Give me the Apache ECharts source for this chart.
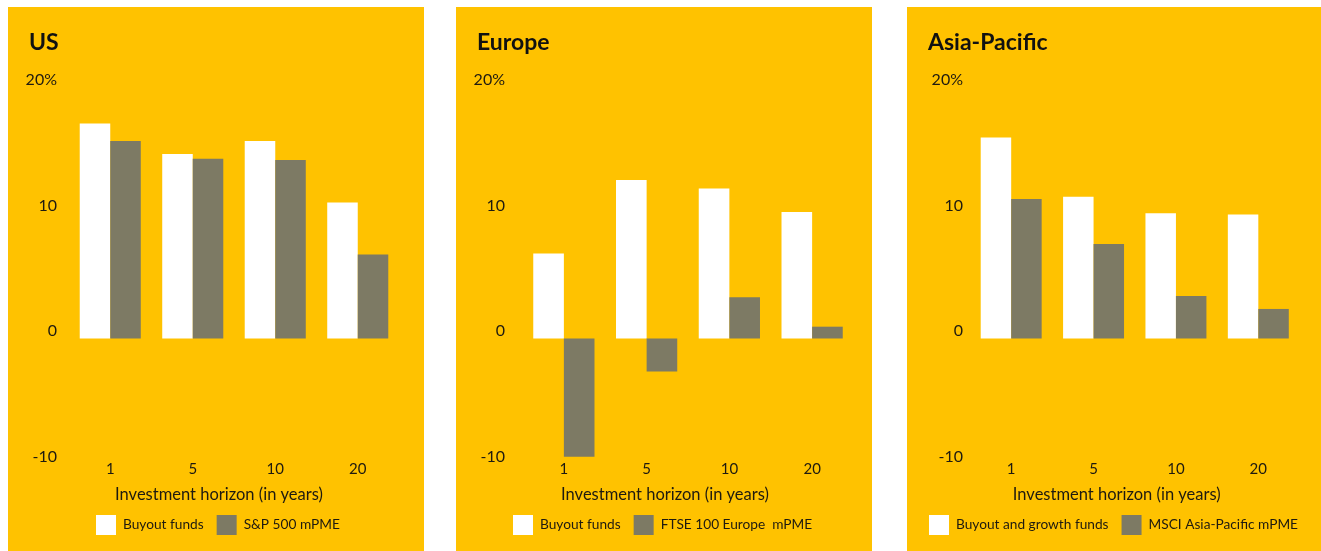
<!DOCTYPE html>
<html>
<head>
<meta charset="utf-8">
<script src="https://cdn.jsdelivr.net/npm/echarts@6/dist/echarts.min.js"></script>
<style>html,body{margin:0;padding:0;background:#fff;}#c{width:1321px;height:551px;}</style>
</head>
<body>
<div id="c"></div>
<script>
const categories = ['1', '5', '10', '20'];
const yTicks = [-10, 0, 10, 20];
const panelTitles = ['US', 'Europe', 'Asia-Pacific'];
const axisTitle = 'Investment horizon (in years)';
const usNames = ['Buyout funds', 'S&P 500 mPME'];
const euNames = ['Buyout funds', 'FTSE 100 Europe  mPME'];
const apNames = ['Buyout and growth funds', 'MSCI Asia-Pacific mPME'];
const usBuyout = [18.2, 15.6, 16.7, 11.5];
const usIndex = [16.7, 15.2, 15.1, 7.1];
const euBuyout = [7.2, 13.4, 12.7, 10.7];
const euIndex = [-10.0, -2.8, 3.5, 1.0];
const apBuyout = [17.0, 12.0, 10.6, 10.5];
const apIndex = [11.8, 8.0, 3.6, 2.5];

const YELLOW = '#FFC200';
const GREY = '#7D7A64';
const WHITE = '#FFFFFF';
const TXT = '#1E1A10';
const FONT = 'Lato, "Open Sans", sans-serif';

const panels = [
  {x: 8, w: 416, labelLeft: 65, barLeft: 69, barW: 330, nameShift: 30, legendLeft: 96, names: usNames, a: usBuyout, b: usIndex},
  {x: 456, w: 416, labelLeft: 513, barLeft: 522.5, barW: 331, nameShift: 46, legendLeft: 513, names: euNames, a: euBuyout, b: euIndex},
  {x: 907, w: 414, labelLeft: 971, barLeft: 970, barW: 329.5, nameShift: 36, legendLeft: 929, names: apNames, a: apBuyout, b: apIndex}
];

const grids = [], xAxes = [], yAxes = [], series = [], legends = [], titles = [], rects = [];
panels.forEach((p, i) => {
  rects.push({type: 'rect', silent: true, z: -10, shape: {x: p.x, y: 7, width: p.w, height: 544}, style: {fill: YELLOW}});
  titles.push({text: panelTitles[i], left: p.x + 21, top: 31, padding: 0,
    textStyle: {fontFamily: FONT, fontWeight: 'bold', fontSize: 23, color: '#111'}});
  // label grid (tick labels only)
  const gl = grids.length;
  grids.push({left: p.labelLeft, top: 80, width: 10, height: 377});
  xAxes.push({gridIndex: gl, type: 'category', show: false, data: categories});
  yAxes.push({gridIndex: gl, type: 'value', min: yTicks[0], max: yTicks[yTicks.length - 1], interval: 10,
    axisLine: {show: false}, axisTick: {show: false}, splitLine: {show: false},
    axisLabel: {color: TXT, fontFamily: FONT, fontSize: 16, margin: 8,
      formatter: v => v === yTicks[yTicks.length - 1] ? v + '%' : String(v)}});
  // bar grid
  const gb = grids.length;
  grids.push({left: p.barLeft, top: 102.1, width: p.barW, height: 354.6});
  xAxes.push({gridIndex: gb, type: 'category', data: categories, position: 'bottom',
    axisLine: {show: false}, axisTick: {show: false},
    axisLabel: {color: TXT, fontFamily: FONT, fontSize: 15, margin: 5},
    name: axisTitle, nameLocation: 'middle', nameGap: 29,
    nameTextStyle: {color: TXT, fontFamily: FONT, fontSize: 16.5, padding: [0, p.nameShift, 0, 0]}});
  yAxes.push({gridIndex: gb, type: 'value', min: -10, max: 20, show: false, splitLine: {show: false}});
  series.push({type: 'bar', name: p.names[0], xAxisIndex: gb, yAxisIndex: gb, data: p.a,
    barGap: '0%', barCategoryGap: '26%', itemStyle: {color: WHITE}});
  series.push({type: 'bar', name: p.names[1], xAxisIndex: gb, yAxisIndex: gb, data: p.b,
    barGap: '0%', barCategoryGap: '26%', itemStyle: {color: GREY}});
  legends.push({data: p.names, left: p.legendLeft, top: 515, padding: 0, orient: 'horizontal', icon: 'rect',
    itemWidth: 20, itemHeight: 20, itemGap: 13, selectedMode: false,
    textStyle: {color: TXT, fontFamily: FONT, fontSize: 13.7, padding: [0, 0, 0, 2]}});
});

const chart = echarts.init(document.getElementById('c'), null, {renderer: 'canvas'});
chart.setOption({
  animation: false,
  backgroundColor: '#FFFFFF',
  title: titles,
  legend: legends,
  grid: grids,
  xAxis: xAxes,
  yAxis: yAxes,
  series: series,
  graphic: rects
});
</script>
</body>
</html>
